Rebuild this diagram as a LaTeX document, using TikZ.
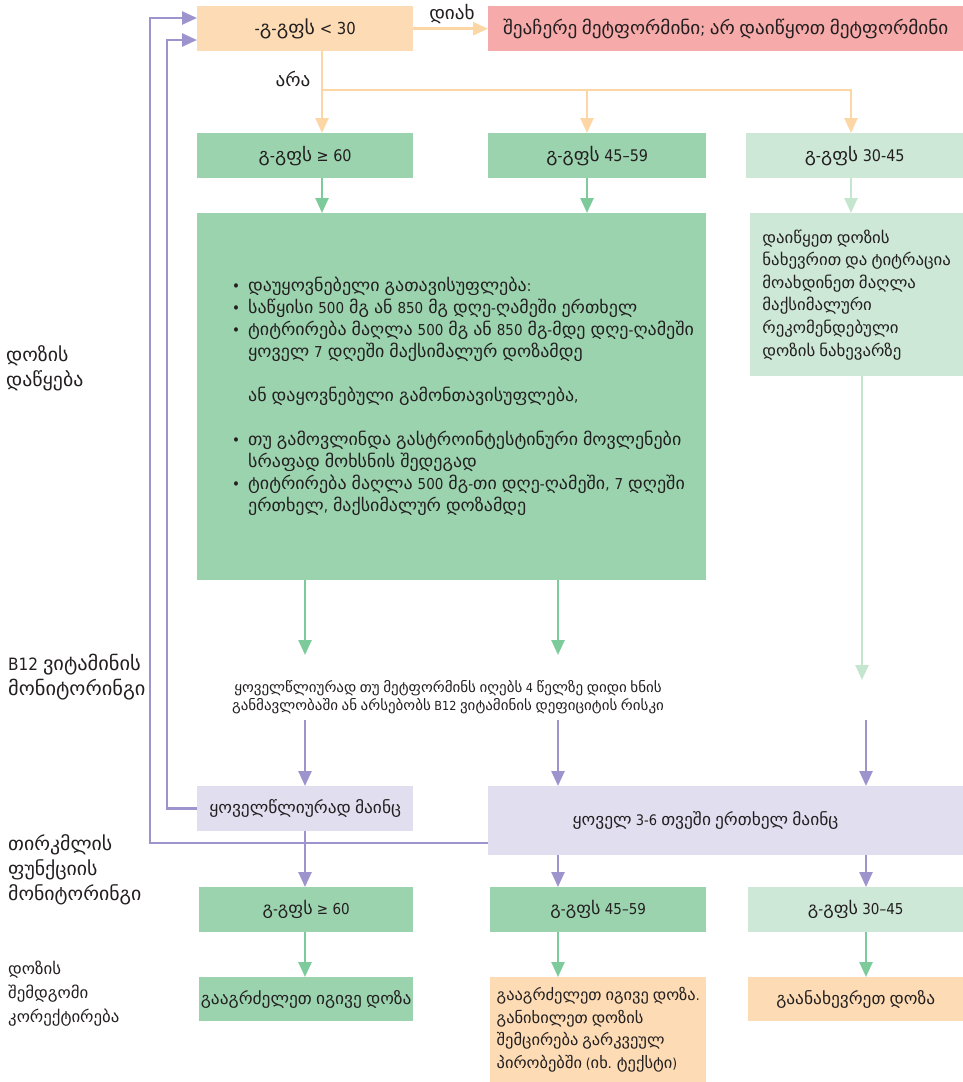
\documentclass[tikz,border=0pt]{standalone}
\usepackage{fontspec}
\setmainfont{DejaVu Sans Condensed}
\newfontfamily\latinfam{DejaVu Sans Condensed}
\newfontfamily\geofont[Scale=1.15,FakeStretch=1.16]{DejaVu Sans Condensed}
\usetikzlibrary{arrows.meta,calc}

% Georgian letters are set in a wider cut of the font
\XeTeXinterchartokenstate=1
\chardef\geoclass=12
\newcount\gcode
\gcode="10A0
\loop
  \XeTeXcharclass\gcode=\geoclass
  \ifnum\gcode<"10FF \advance\gcode by 1 \repeat
\XeTeXinterchartoks 0 \geoclass = {\geofont}
\XeTeXinterchartoks 4095 \geoclass = {\geofont}
\XeTeXinterchartoks \geoclass 0 = {\latinfam}
\XeTeXinterchartoks \geoclass 4095 = {\latinfam}

\definecolor{peach}{HTML}{FDDCB5}
\definecolor{peachln}{HTML}{FDD6A5}
\definecolor{rose}{HTML}{F6AAAA}
\definecolor{greenA}{HTML}{9BD3AF}
\definecolor{greenAln}{HTML}{7DCB9A}
\definecolor{greenB}{HTML}{CDE8D7}
\definecolor{greenBln}{HTML}{C4E6CF}
\definecolor{lav}{HTML}{E1DEF0}
\definecolor{lavln}{HTML}{9D93CD}
\definecolor{ink}{HTML}{231F20}

\begin{document}
\begin{tikzpicture}[x=1pt,y=-1pt,
  box/.style={anchor=north west, inner sep=0pt, text=ink, align=center,
              font=\fontsize{16}{20}\selectfont},
  lbl/.style={anchor=west, inner sep=0pt, text=ink, align=left,
              font=\fontsize{16.5}{25}\selectfont},
  arr/.style={line width=2.5pt, -{Triangle[width=13pt,length=15pt]}}
]
\useasboundingbox (0,0) rectangle (963,1082);

% column positions of the connectors
\coordinate (split) at (322,90);
\coordinate (xb) at (587,0);
\coordinate (xc) at (851,0);
\coordinate (xd) at (305,0);
\coordinate (xe) at (558,0);
\coordinate (xf) at (862,0);
\coordinate (xg) at (866,0);
\coordinate (b12top) at (0,655);
\coordinate (b12bot) at (0,720);
\coordinate (lgend) at (862,680);
\coordinate (in1) at (167,40);
\coordinate (out1) at (150,18);
\coordinate (outy) at (0,843);

% decision row
\node[box, fill=peach, minimum width=216pt, minimum height=45pt, font=\fontsize{16.5}{20}\selectfont] (egfr) at (197,6) {-გ-გფს < 30};
\node[box, fill=rose, minimum width=475pt, minimum height=45pt] (stop) at (488,6) {შეაჩერე მეტფორმინი; არ დაიწყოთ მეტფორმინი};
\node[text=ink, font=\fontsize{16}{20}\selectfont] (yes) at (452,14) {დიახ};
\node[text=ink, font=\fontsize{16}{20}\selectfont] (no) at (293,79) {არა};

% eGFR groups at start
\node[box, fill=greenA, minimum width=216pt, minimum height=45pt] (g60) at (197,133) {გ-გფს ≥ 60};
\node[box, fill=greenA, minimum width=218pt, minimum height=45pt] (g45) at (488,133) {გ-გფს 45–59};
\node[box, fill=greenB, minimum width=217pt, minimum height=45pt] (g30) at (746,133) {გ-გფს 30-45};

% dosing boxes
\node[box, fill=greenA, minimum width=509pt, minimum height=367pt, align=left,
      text width=439pt, inner xsep=35pt, font=\fontsize{15}{22}\selectfont] (start) at (197,213) {%
\begin{tabular}{@{}l@{\hspace{8pt}}l@{}}
• & დაუყოვნებელი გათავისუფლება:\\
• & საწყისი 500 მგ ან 850 მგ დღე-ღამეში ერთხელ\\
• & ტიტრირება მაღლა 500 მგ ან 850 მგ-მდე დღე-ღამეში\\
  & ყოველ 7 დღეში მაქსიმალურ დოზამდე\\
  & \\
  & ან დაყოვნებული გამონთავისუფლება,\\
  & \\
• & თუ გამოვლინდა გასტროინტესტინური მოვლენები\\
  & სრაფად მოხსნის შედეგად\\
• & ტიტრირება მაღლა 500 მგ-თი დღე-ღამეში, 7 დღეში\\
  & ერთხელ, მაქსიმალურ დოზამდე
\end{tabular}};
\node[box, fill=greenB, minimum width=213pt, minimum height=163pt, align=left,
      font=\fontsize{14}{22.6}\selectfont] (half) at (750,213)
  {დაიწყეთ დოზის\\ნახევრით და ტიტრაცია\\მოახდინეთ მაღლა\\მაქსიმალური\\რეკომენდებული\\დოზის ნახევარზე};

% B12 note
\node[text=ink, align=center, inner sep=0pt, font=\fontsize{12.5}{18}\selectfont] (b12) at (448,697)
  {ყოველწლიურად თუ მეტფორმინს იღებს 4 წელზე დიდი ხნის\\განმავლობაში ან არსებობს B12 ვიტამინის დეფიციტის რისკი};

% kidney monitoring
\node[box, fill=lav, minimum width=216pt, minimum height=45pt, font=\fontsize{14.5}{20}\selectfont] (yearly) at (197,786) {ყოველწლიურად მაინც};
\node[box, fill=lav, minimum width=475pt, minimum height=69pt, font=\fontsize{14.5}{20}\selectfont] (often) at (488,786)
  {\makebox[306pt][l]{ყოველ 3-6 თვეში ერთხელ მაინც}};

% eGFR groups later
\node[box, fill=greenA, minimum width=214pt, minimum height=45pt, font=\fontsize{15}{20}\selectfont] (r60) at (199,887) {გ-გფს ≥ 60};
\node[box, fill=greenA, minimum width=216pt, minimum height=45pt, font=\fontsize{15}{20}\selectfont] (r45) at (490,887) {გ-გფს 45–59};
\node[box, fill=greenB, minimum width=215pt, minimum height=45pt, font=\fontsize{15}{20}\selectfont] (r30) at (748,887) {გ-გფს 30–45};

% dose adjustment
\node[box, fill=greenA, minimum width=214pt, minimum height=44pt, font=\fontsize{14.5}{20}\selectfont] (keep) at (199,977) {გააგრძელეთ იგივე დოზა};
\node[box, fill=peach, minimum width=216pt, minimum height=105pt, align=left,
      font=\fontsize{13.7}{22.7}\selectfont] (keepr) at (490,977)
  {გააგრძელეთ იგივე დოზა.\\განიხილეთ დოზის\\შემცირება გარკვეულ\\პირობებში (იხ. ტექსტი)};
\node[box, fill=peach, minimum width=215pt, minimum height=44pt, font=\fontsize{14.5}{20}\selectfont] (halve) at (748,977) {გაანახევრეთ დოზა};

% row labels
\node[lbl] (lab1) at (6,368) {დოზის\\დაწყება};
\node[lbl, font=\fontsize{17}{25}\selectfont] (lab2) at (8,677) {B12 ვიტამინის\\მონიტორინგი};
\node[lbl] (lab3) at (8,870) {თირკმლის\\ფუნქციის\\მონიტორინგი};
\node[lbl, font=\fontsize{14}{24}\selectfont] (lab4) at (8,994) {დოზის\\შემდგომი\\კორექტირება};

% decision connectors
\draw[arr, peachln] (egfr.east) -- (stop.west);
\draw[arr, peachln] (egfr.south -| split) -- (g60.north -| split);
\draw[arr, peachln] (split) -| (g45.north -| xb);
\draw[arr, peachln] (split) -| (g30.north -| xc);

% start connectors
\draw[arr, greenAln] (g60.south -| split) -- (start.north -| split);
\draw[arr, greenAln] (g45.south -| xb) -- (start.north -| xb);
\draw[arr, greenBln] (g30.south -| xc) -- (half.north -| xc);
\draw[arr, greenAln] (start.south -| xd) -- (b12top -| xd);
\draw[arr, greenAln] (start.south -| xe) -- (b12top -| xe);
\draw[arr, greenBln] (half.south -| xf) -- (lgend);

% monitoring connectors
\draw[arr, lavln] (b12bot -| xd) -- (yearly.north -| xd);
\draw[arr, lavln] (b12bot -| xe) -- (often.north -| xe);
\draw[arr, lavln] (b12bot -| xg) -- (often.north -| xg);
\draw[arr, lavln] (yearly.west) -| (in1) -- (egfr.west |- in1);
\draw[arr, lavln] (often.west |- outy) -| (out1) -- (egfr.west |- out1);
\draw[arr, lavln] (yearly.south -| xd) -- (r60.north -| xd);
\draw[arr, lavln] (often.south -| xe) -- (r45.north -| xe);
\draw[arr, lavln] (often.south -| xg) -- (r30.north -| xg);

% adjustment connectors
\draw[arr, greenAln] (r60.south -| xd) -- (keep.north -| xd);
\draw[arr, greenAln] (r45.south -| xe) -- (keepr.north -| xe);
\draw[arr, greenAln] (r30.south -| xg) -- (halve.north -| xg);
\end{tikzpicture}
\end{document}
